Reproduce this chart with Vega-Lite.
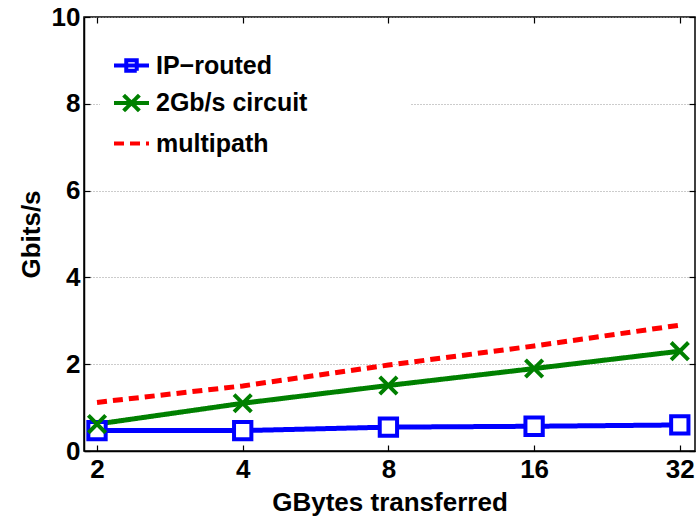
{
  "$schema": "https://vega.github.io/schema/vega-lite/v6.json",
  "autosize": {"type": "none"},
  "padding": {"left": 84, "top": 17, "right": 5, "bottom": 66},
  "width": 611,
  "height": 434,
  "background": "white",
  "config": {
    "view": {"stroke": "black", "strokeWidth": 1.5},
    "font": "Liberation Sans",
    "axis": {
      "domainColor": "black", "domainWidth": 1.5,
      "tickColor": "black", "tickWidth": 1.2, "tickSize": -6,
      "labelFont": "Liberation Sans", "labelFontWeight": "bold", "labelFontSize": 26, "labelColor": "black",
      "titleFont": "Liberation Sans", "titleFontWeight": "bold", "titleFontSize": 26, "titleColor": "black"
    },
    "legend": {
      "labelFont": "Liberation Sans", "labelFontWeight": "bold", "labelFontSize": 25, "labelColor": "black"
    }
  },
  "data": {"values": [
    {"series": "IP−routed", "gb": 2, "gbps": 0.47},
    {"series": "IP−routed", "gb": 4, "gbps": 0.47},
    {"series": "IP−routed", "gb": 8, "gbps": 0.55},
    {"series": "IP−routed", "gb": 16, "gbps": 0.57},
    {"series": "IP−routed", "gb": 32, "gbps": 0.6},
    {"series": "2Gb/s circuit", "gb": 2, "gbps": 0.62},
    {"series": "2Gb/s circuit", "gb": 4, "gbps": 1.1},
    {"series": "2Gb/s circuit", "gb": 8, "gbps": 1.51},
    {"series": "2Gb/s circuit", "gb": 16, "gbps": 1.9},
    {"series": "2Gb/s circuit", "gb": 32, "gbps": 2.3},
    {"series": "multipath", "gb": 2, "gbps": 1.12},
    {"series": "multipath", "gb": 4, "gbps": 1.5},
    {"series": "multipath", "gb": 8, "gbps": 1.98},
    {"series": "multipath", "gb": 16, "gbps": 2.42},
    {"series": "multipath", "gb": 32, "gbps": 2.9}
  ]},
  "layer": [
    {
      "mark": {"type": "line", "strokeWidth": 5},
      "encoding": {
        "x": {
          "field": "gb", "type": "quantitative",
          "scale": {"type": "log", "base": 2, "domain": [1.88, 34.4], "nice": false},
          "axis": {"orient": "bottom", "values": [2, 4, 8, 16, 32], "grid": false, "labelPadding": 11, "title": "GBytes transferred", "titlePadding": 7}
        },
        "y": {
          "field": "gbps", "type": "quantitative",
          "scale": {"domain": [0, 10], "nice": false},
          "axis": {"orient": "left", "values": [0, 2, 4, 6, 8, 10], "grid": true, "gridDash": [1, 2], "gridColor": "#999", "gridWidth": 1, "labelPadding": 10, "title": "Gbits/s", "titlePadding": 7}
        },
        "color": {
          "field": "series", "type": "nominal",
          "scale": {"domain": ["IP−routed", "2Gb/s circuit", "multipath"], "range": ["#0000ff", "#008000", "#ff0000"]},
          "legend": {
            "title": null,
            "orient": "none", "legendX": 16, "legendY": 17,
            "fillColor": "white", "padding": 12,
            "symbolSize": 1225, "symbolStrokeWidth": 4, "symbolFillColor": "transparent",
            "labelOffset": 5, "rowPadding": 4.5, "labelLimit": 1000,
            "labelExpr": "datum.label === '2Gb/s circuit' ? datum.label + '             \u200b' : datum.label",
            "encode": {
              "symbols": {"update": {
                "shape": {"signal": "datum.value === 'IP−routed' ? 'M-1,0H1M-0.3,-0.3H0.3V0.3H-0.3Z' : (datum.value === '2Gb/s circuit' ? 'M-1,0H1M-0.45,-0.45L0.45,0.45M-0.45,0.45L0.45,-0.45' : 'M-1,0H1')"},
                "strokeDash": {"signal": "datum.value === 'multipath' ? [9,4] : [1,0]"},
                "strokeWidth": {"value": 4},
                "fill": {"value": "transparent"}
              }}
            }
          }
        },
        "strokeDash": {
          "field": "series", "type": "nominal",
          "scale": {"domain": ["IP−routed", "2Gb/s circuit", "multipath"], "range": [[1, 0], [1, 0], [10, 6]]},
          "legend": null
        }
      }
    },
    {
      "transform": [{"filter": "datum.series !== 'multipath'"}],
      "mark": {"type": "point", "filled": false, "fill": "white", "strokeWidth": 4, "opacity": 1, "size": 300},
      "encoding": {
        "x": {
          "field": "gb", "type": "quantitative",
          "axis": {"orient": "top", "values": [2, 4, 8, 16, 32], "grid": false, "labels": false, "domain": false, "title": null}
        },
        "y": {
          "field": "gbps", "type": "quantitative",
          "axis": {"orient": "right", "values": [0, 2, 4, 6, 8, 10], "grid": false, "labels": false, "domain": false, "title": null}
        },
        "color": {"field": "series", "type": "nominal"},
        "shape": {
          "field": "series", "type": "nominal",
          "scale": {"domain": ["IP−routed", "2Gb/s circuit"], "range": ["square", "M-1,-1L1,1M-1,1L1,-1"]},
          "legend": null
        }
      }
    }
  ]
}
